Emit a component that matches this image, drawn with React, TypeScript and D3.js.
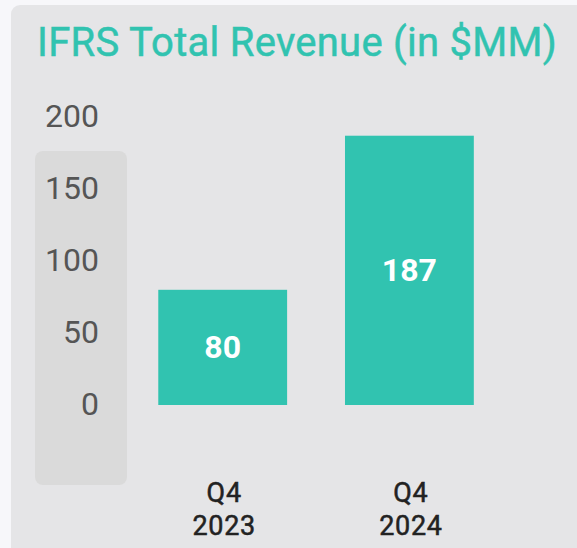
import React from "react";
import * as d3 from "d3";

const title = "IFRS Total Revenue (in $MM)";
const categories = ["Q4 2023", "Q4 2024"];
const categoryLines = [["Q4", "2023"], ["Q4", "2024"]];
const revenue = [80, 187];
const yTicks = [0, 50, 100, 150, 200];

const W = 577;
const H = 548;
const TEAL = "#31c3b0";

export default function App() {
  const x = d3.scaleBand<string>().domain(categories).range([100.4, 531.7]).padding(0.31);
  const y = d3.scaleLinear().domain([0, 200]).range([405, 117]);

  return (
    <div style={{ position: "fixed", left: 0, top: 0, width: W, height: H, background: "#f7f7fa" }}>
      <svg width={W} height={H} style={{ display: "block", fontFamily: "Roboto, sans-serif" }}>
        <rect x={0} y={0} width={W} height={H} fill="#f7f7fa" />
        <rect x={11} y={5} width={W + 20} height={H + 20} rx={9} fill="#e5e5e7" />
        <text x={37} y={56} fontSize={40} fill={TEAL} fontWeight={400} letterSpacing={0.27} stroke={TEAL} strokeWidth={0.5}>
          {title}
        </text>
        <rect x={35} y={151} width={92} height={334} rx={8} fill="#dadada" />
        {yTicks.map((t) => (
          <text
            key={t}
            x={99}
            y={y(t) - 1}
            textAnchor="end"
            dominantBaseline="central"
            fontSize={32}
            fill="#555555"
          >
            {t}
          </text>
        ))}
        {categories.map((c, i) => {
          const bx = x(c) as number;
          const bw = x.bandwidth();
          const top = y(revenue[i]);
          const cx = bx + bw / 2;
          return (
            <g key={c}>
              <rect x={bx} y={top} width={bw} height={y(0) - top} fill={TEAL} />
              <text
                x={cx}
                y={(top + y(0)) / 2}
                textAnchor="middle"
                dominantBaseline="central"
                fontSize={32}
                fontWeight={700}
                fill="#ffffff"
              >
                {revenue[i]}
              </text>
              {categoryLines[i].map((ln, j) => (
                <text
                  key={j}
                  x={cx + 1.5}
                  y={502 + j * 33}
                  textAnchor="middle"
                  fontSize={27}
                  fontWeight={400}
                  letterSpacing={0.7}
                  fill="#222222"
                  stroke="#222222"
                  strokeWidth={0.5}
                >
                  {ln}
                </text>
              ))}
            </g>
          );
        })}
      </svg>
    </div>
  );
}
